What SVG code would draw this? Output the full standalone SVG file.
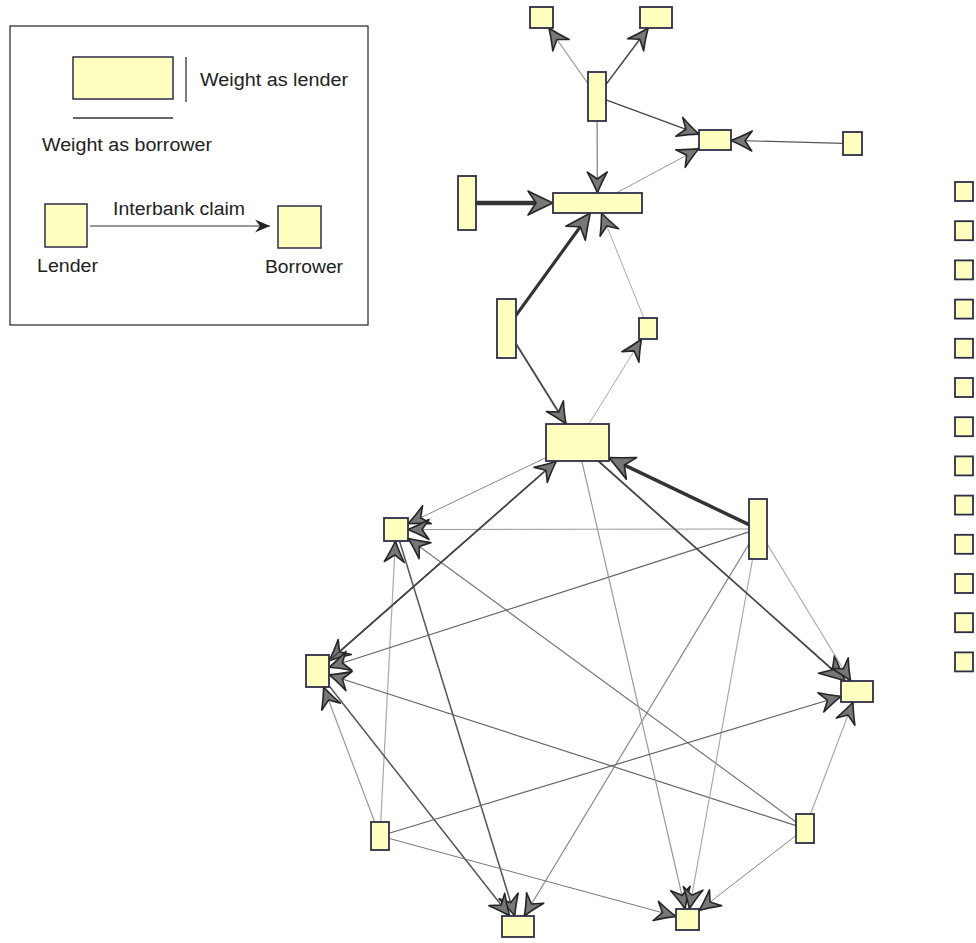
<svg xmlns="http://www.w3.org/2000/svg" width="976" height="943" viewBox="0 0 976 943">
<style>
.n{fill:#ffffc0;stroke:#2e2e48;stroke-width:1.8}
.t{font-family:"Liberation Sans",Arial,sans-serif;font-size:18px;fill:#222}
.e{fill:none}
</style>
<defs>
<marker id="ah" markerUnits="userSpaceOnUse" viewBox="-26 -13 28 26" markerWidth="28" markerHeight="26" refX="0" refY="0" orient="auto" overflow="visible">
<path d="M0,0 Q-9,-3.5 -21,-10 L-14,0 L-21,10 Q-9,3.5 0,0 Z" fill="#777" stroke="#262626" stroke-width="1.6" stroke-linejoin="round"/>
</marker>
<marker id="ahb" markerUnits="userSpaceOnUse" viewBox="-18 -15 34 30" markerWidth="34" markerHeight="30" refX="0" refY="0" orient="auto" overflow="visible">
<path d="M12,0 Q1,-5 -13,-12 L-5,0 L-13,12 Q1,5 12,0 Z" fill="#777" stroke="#262626" stroke-width="1.6" stroke-linejoin="round"/>
</marker>
<marker id="ahl" markerUnits="userSpaceOnUse" viewBox="-16 -8 18 16" markerWidth="18" markerHeight="16" refX="0" refY="0" orient="auto" overflow="visible">
<path d="M0,0 L-15,-6.5 L-10,0 L-15,6.5 Z" fill="#222"/>
</marker>
</defs>
<rect width="976" height="943" fill="#ffffff"/>

<g id="legend">
<rect x="10" y="26" width="358" height="299" fill="none" stroke="#333" stroke-width="1.3"/>
<rect class="n" x="73" y="57" width="100" height="42" style="stroke-width:1.5"/>
<line x1="186" y1="57" x2="186" y2="102" stroke="#333" stroke-width="1.3"/>
<text class="t" x="200" y="86" textLength="148" lengthAdjust="spacingAndGlyphs">Weight as lender</text>
<line x1="73" y1="118" x2="173" y2="118" stroke="#333" stroke-width="1.3"/>
<text class="t" x="42" y="151" textLength="170" lengthAdjust="spacingAndGlyphs">Weight as borrower</text>
<rect class="n" x="45" y="204" width="42" height="43" style="stroke-width:1.5"/>
<rect class="n" x="278" y="206" width="43" height="42" style="stroke-width:1.5"/>
<line x1="90" y1="226" x2="270" y2="226" stroke="#333" stroke-width="1.2" marker-end="url(#ahl)"/>
<text class="t" x="113" y="215" textLength="132" lengthAdjust="spacingAndGlyphs">Interbank claim</text>
<text class="t" x="37" y="272" textLength="61" lengthAdjust="spacingAndGlyphs">Lender</text>
<text class="t" x="265" y="273" textLength="78" lengthAdjust="spacingAndGlyphs">Borrower</text>
</g>

<g id="connectors" class="e" marker-end="url(#ah)">
<line x1="588" y1="83.7" x2="548.9" y2="28" stroke="#999" stroke-width="1.2"/>
<line x1="606" y1="84.4" x2="648.2" y2="28" stroke="#444" stroke-width="1.5"/>
<line x1="606" y1="99.8" x2="699" y2="134.1" stroke="#444" stroke-width="1.3"/>
<line x1="843" y1="143.3" x2="731" y2="140.4" stroke="#555" stroke-width="1.2"/>
<line x1="597.1" y1="121" x2="597.4" y2="193" stroke="#888" stroke-width="1.3"/>
<line x1="616.2" y1="193" x2="699" y2="148.6" stroke="#999" stroke-width="1"/>
<line x1="476" y1="203" x2="541" y2="203" stroke="#333" stroke-width="4.5" marker-end="url(#ahb)"/>
<line x1="516" y1="315.4" x2="583.2" y2="222.7" stroke="#333" stroke-width="3.2" marker-end="url(#ahb)"/>
<line x1="643.8" y1="318" x2="601.5" y2="213" stroke="#aaa" stroke-width="1"/>
<line x1="516" y1="343.7" x2="566" y2="424" stroke="#444" stroke-width="1.8"/>
<line x1="588.9" y1="424" x2="641.5" y2="339" stroke="#aaa" stroke-width="1"/>
<line x1="749" y1="524.7" x2="619.8" y2="462.8" stroke="#333" stroke-width="3.5" marker-end="url(#ahb)"/>
<line x1="546" y1="457.6" x2="408" y2="523.8" stroke="#888" stroke-width="1"/>
<line x1="749" y1="529" x2="408" y2="529.5" stroke="#999" stroke-width="1"/>
<line x1="796" y1="821.9" x2="408" y2="538.3" stroke="#777" stroke-width="1.2"/>
<line x1="380.7" y1="822" x2="395.4" y2="541" stroke="#aaa" stroke-width="1.2"/>
<line x1="399.5" y1="541" x2="514.8" y2="916" stroke="#555" stroke-width="1.5"/>
<line x1="556.5" y1="461" x2="329" y2="660.9" stroke="#444" stroke-width="1.5"/>
<line x1="329" y1="660.9" x2="556.5" y2="461" stroke="#444" stroke-width="1.5"/>
<line x1="749" y1="531.9" x2="329" y2="667.3" stroke="#666" stroke-width="1.2"/>
<line x1="796" y1="825.6" x2="329" y2="674.7" stroke="#666" stroke-width="1.2"/>
<line x1="374.7" y1="822" x2="323.6" y2="687" stroke="#999" stroke-width="1.2"/>
<line x1="329" y1="685.7" x2="509.8" y2="916" stroke="#555" stroke-width="1.5"/>
<line x1="749" y1="543.9" x2="524.3" y2="916" stroke="#888" stroke-width="1.2"/>
<line x1="581.8" y1="461" x2="685.1" y2="909" stroke="#999" stroke-width="1.2"/>
<line x1="752.6" y1="559" x2="689.4" y2="909" stroke="#aaa" stroke-width="1.2"/>
<line x1="389" y1="838.4" x2="676" y2="916.4" stroke="#777" stroke-width="1"/>
<line x1="796" y1="835.5" x2="699" y2="910.6" stroke="#888" stroke-width="1"/>
<line x1="598.3" y1="461" x2="836.2" y2="673" stroke="#444" stroke-width="1.8" marker-end="url(#ahb)"/>
<line x1="767" y1="543.8" x2="850.6" y2="681" stroke="#aaa" stroke-width="1.2"/>
<line x1="389" y1="833.3" x2="841" y2="696.3" stroke="#666" stroke-width="1.2"/>
<line x1="810.5" y1="814" x2="853" y2="702" stroke="#aaa" stroke-width="1.2"/>
</g>

<g id="nA"><rect class="n" x="530" y="7" width="23" height="21"/></g>
<g id="nB"><rect class="n" x="640" y="7" width="32" height="21"/></g>
<g id="nC"><rect class="n" x="588" y="72" width="18" height="49"/></g>
<g id="nD"><rect class="n" x="699" y="130" width="32" height="20"/></g>
<g id="nE"><rect class="n" x="843" y="132" width="19" height="23"/></g>
<g id="nF"><rect class="n" x="458" y="176" width="18" height="54"/></g>
<g id="nG"><rect class="n" x="553" y="193" width="89" height="20"/></g>
<g id="nH"><rect class="n" x="497" y="299" width="19" height="59"/></g>
<g id="nI"><rect class="n" x="639" y="318" width="18" height="21"/></g>
<g id="nJ"><rect class="n" x="546" y="424" width="63" height="37"/></g>
<g id="nK"><rect class="n" x="384" y="518" width="24" height="23"/></g>
<g id="nL"><rect class="n" x="306" y="655" width="23" height="32"/></g>
<g id="nM"><rect class="n" x="749" y="499" width="18" height="60"/></g>
<g id="nN"><rect class="n" x="841" y="681" width="32" height="21"/></g>
<g id="nO"><rect class="n" x="371" y="822" width="18" height="28"/></g>
<g id="nP"><rect class="n" x="502" y="916" width="32" height="21"/></g>
<g id="nQ"><rect class="n" x="676" y="909" width="23" height="21"/></g>
<g id="nR"><rect class="n" x="796" y="814" width="18" height="29"/></g>

<g id="iso1"><rect class="n" x="955" y="182" width="18" height="19"/></g>
<g id="iso2"><rect class="n" x="955" y="221.2" width="18" height="19"/></g>
<g id="iso3"><rect class="n" x="955" y="260.4" width="18" height="19"/></g>
<g id="iso4"><rect class="n" x="955" y="299.6" width="18" height="19"/></g>
<g id="iso5"><rect class="n" x="955" y="338.8" width="18" height="19"/></g>
<g id="iso6"><rect class="n" x="955" y="378" width="18" height="19"/></g>
<g id="iso7"><rect class="n" x="955" y="417.2" width="18" height="19"/></g>
<g id="iso8"><rect class="n" x="955" y="456.4" width="18" height="19"/></g>
<g id="iso9"><rect class="n" x="955" y="495.6" width="18" height="19"/></g>
<g id="iso10"><rect class="n" x="955" y="534.8" width="18" height="19"/></g>
<g id="iso11"><rect class="n" x="955" y="574" width="18" height="19"/></g>
<g id="iso12"><rect class="n" x="955" y="613.2" width="18" height="19"/></g>
<g id="iso13"><rect class="n" x="955" y="652.4" width="18" height="19"/></g>
</svg>
